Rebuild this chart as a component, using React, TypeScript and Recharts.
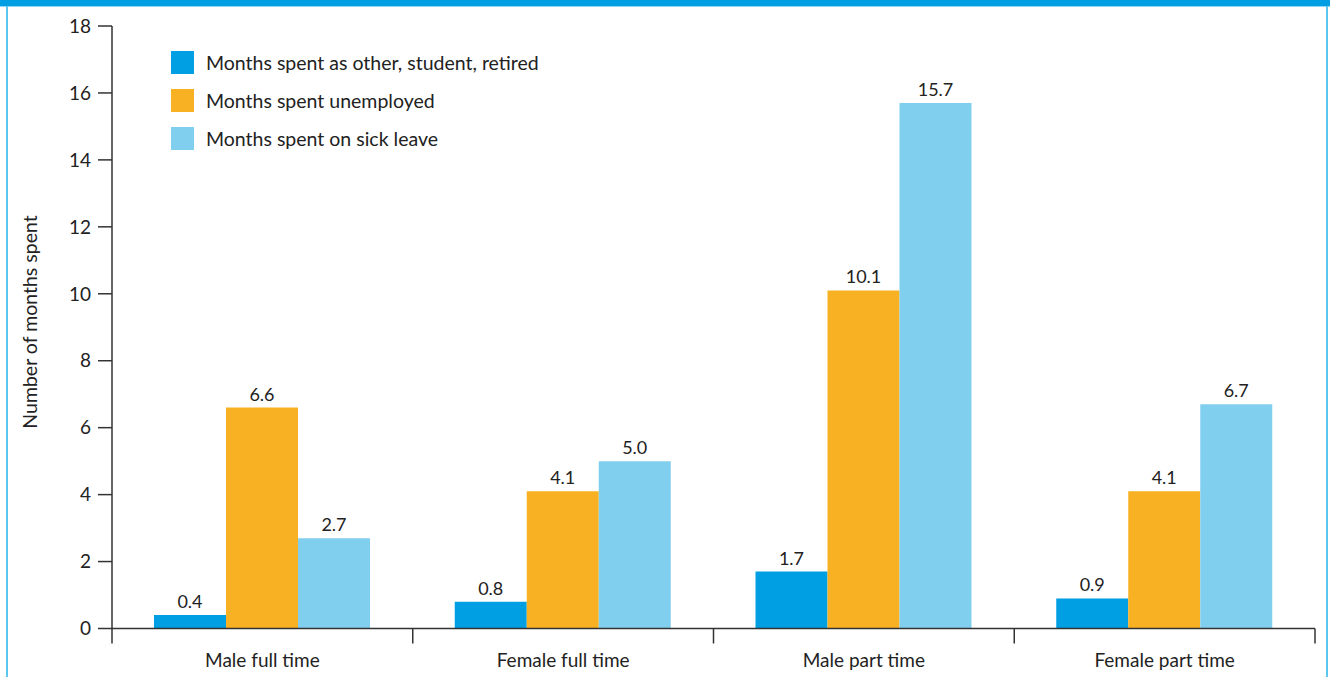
import { Bar, BarChart, LabelList, XAxis, YAxis } from 'recharts';

const groups = ['Male full time', 'Female full time', 'Male part time', 'Female part time'];
const otherMonths = [0.4, 0.8, 1.7, 0.9];
const unemployedMonths = [6.6, 4.1, 10.1, 4.1];
const sickMonths = [2.7, 5.0, 15.7, 6.7];
const yTicks = [0, 2, 4, 6, 8, 10, 12, 14, 16, 18];

const seriesInfo = [
	{ key: 'other', name: 'Months spent as other, student, retired', color: '#009FE3' },
	{ key: 'unemployed', name: 'Months spent unemployed', color: '#F8B122' },
	{ key: 'sick', name: 'Months spent on sick leave', color: '#80CFEF' },
];

const rows = groups.map((g, i) => ({
	group: g,
	other: otherMonths[i],
	unemployed: unemployedMonths[i],
	sick: sickMonths[i],
}));

const FONT = 'Lato, "Open Sans", sans-serif';
const INK = '#222';

// category label plus the divider ticks that sit on band edges
function GroupTick(props: any) {
	const { x, y, payload, index, visibleTicksCount } = props;
	const half = payload?.offset ?? 0;
	const last = index === visibleTicksCount - 1;
	return (
		<g>
			<line x1={x - half} x2={x - half} y1={y} y2={y + 15} stroke='#333' strokeWidth={1.5} />
			{last && <line x1={x + half} x2={x + half} y1={y} y2={y + 15} stroke='#333' strokeWidth={1.5} />}
			<text x={x} y={y + 38} textAnchor='middle' fill={INK} fontSize={19} fontFamily={FONT}>
				{payload.value}
			</text>
		</g>
	);
}

function LegendBox() {
	return (
		<div style={{ position: 'absolute', left: 171, top: 43, fontFamily: FONT, fontSize: 19.5, color: INK }}>
			{seriesInfo.map((s) => (
				<div key={s.key} style={{ display: 'flex', alignItems: 'center', height: 38 }}>
					<span style={{ width: 23, height: 23, background: s.color, marginRight: 12 }} />
					<span>{s.name}</span>
				</div>
			))}
		</div>
	);
}

export default function App() {
	return (
		<div
			style={{
				position: 'absolute',
				left: 0,
				top: 0,
				width: 1330,
				height: 677,
				background: '#fff',
				overflow: 'hidden',
			}}
		>
			<div style={{ position: 'absolute', left: 0, top: 0, width: 1330, height: 6, background: '#009FE3' }} />
			<div style={{ position: 'absolute', left: 0, top: 6, width: 1330, height: 1, background: '#8FD6F3' }} />
			<div style={{ position: 'absolute', left: 6, top: 6, width: 2, height: 671, background: '#5CC6F0' }} />
			<div style={{ position: 'absolute', left: 1326, top: 6, width: 2, height: 671, background: '#5CC6F0' }} />
			<div style={{ position: 'absolute', left: 0, top: 0 }}>
				<BarChart
					width={1330}
					height={677}
					data={rows}
					margin={{ top: 26, right: 15, bottom: 0, left: 0 }}
					barCategoryGap={42}
					barGap={0}
				>
					<YAxis
						width={112}
						domain={[0, 18]}
						ticks={yTicks}
						interval={0}
						tickSize={14}
						tickMargin={7}
						axisLine={{ stroke: '#333', strokeWidth: 1.5 }}
						tickLine={{ stroke: '#333', strokeWidth: 1.5 }}
						tick={{ fill: INK, fontSize: 19, fontFamily: FONT }}
					/>
					<XAxis
						dataKey='group'
						height={48.5}
						interval={0}
						tickSize={0}
						tickMargin={0}
						tickLine={false}
						axisLine={{ stroke: '#333', strokeWidth: 1.5 }}
						tick={<GroupTick />}
					/>
					{seriesInfo.map((s) => (
						<Bar key={s.key} dataKey={s.key} name={s.name} fill={s.color} isAnimationActive={false}>
							<LabelList
								dataKey={s.key}
								position='top'
								offset={7}
								formatter={(v: any) => Number(v).toFixed(1)}
								style={{ fill: INK, fontSize: 18, fontFamily: FONT }}
							/>
						</Bar>
					))}
				</BarChart>
			</div>
			<svg style={{ position: 'absolute', left: 0, top: 0 }} width={60} height={677}>
				<text
					x={0}
					y={0}
					transform='translate(37 322) rotate(-90)'
					textAnchor='middle'
					fill={INK}
					fontSize={19.5}
					fontFamily={FONT}
				>
					Number of months spent
				</text>
			</svg>
			<LegendBox />
		</div>
	);
}
